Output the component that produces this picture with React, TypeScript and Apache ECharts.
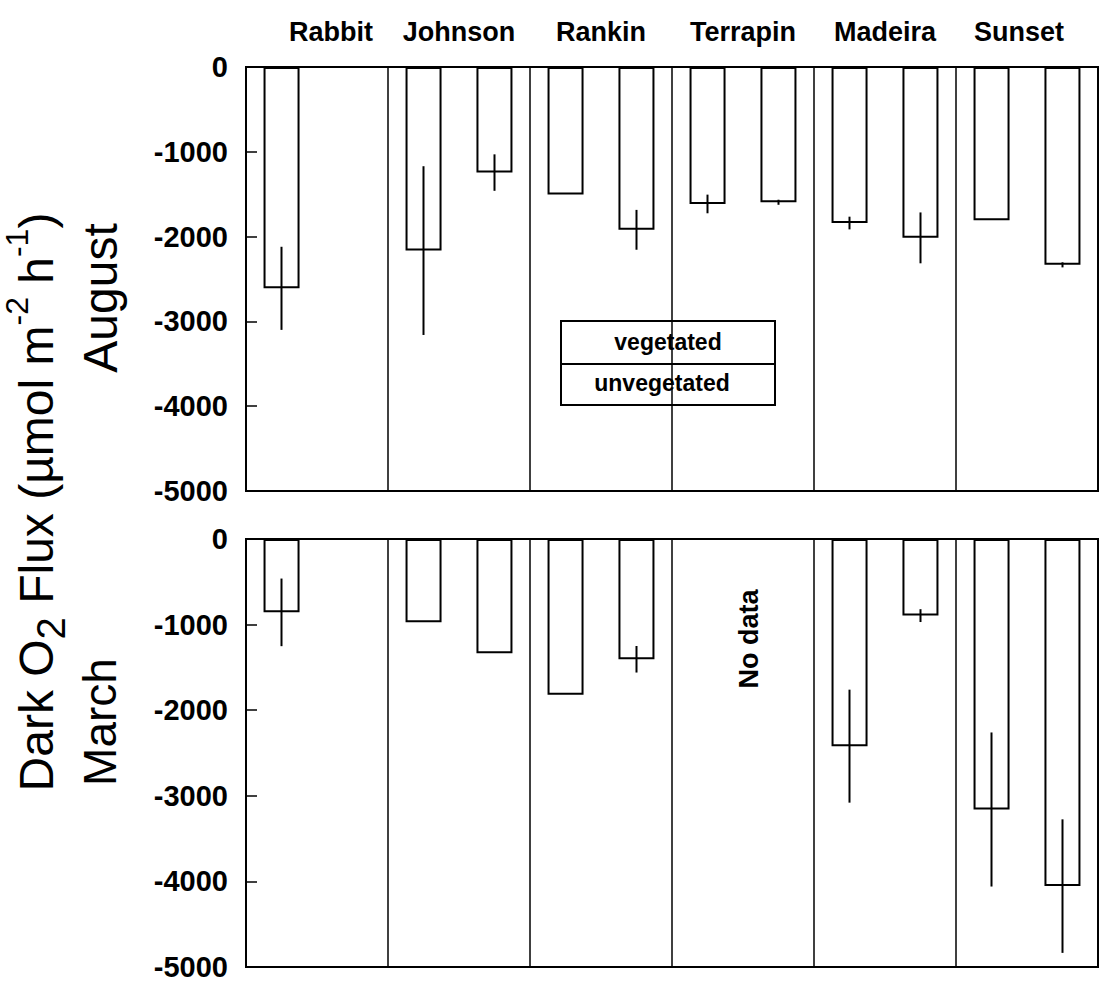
import React, { useEffect, useRef } from "react";
import * as echarts from "echarts";

// ---- data ----
const sites = ["Rabbit", "Johnson", "Rankin", "Terrapin", "Madeira", "Sunset"];

const augVeg = [-2610, -2165, -1505, -1615, -1840, -1808];
const augVegErr = [490, 995, 0, 110, 75, 0];
const augUnveg = [null, -1245, -1920, -1595, -2015, -2333];
const augUnvegErr = [null, 215, 235, 30, 300, 30];

const marVeg = [-857, -973, -1820, null, -2420, -3160];
const marVegErr = [395, 0, 0, null, 660, 900];
const marUnveg = [null, -1335, -1405, null, -895, -4055];
const marUnvegErr = [null, 0, 155, null, 75, 780];

const legendLabels = ["vegetated", "unvegetated"];
const noDataLabel = "No data";

// ---- styling ----
const FONT = "'Liberation Sans', Arial, Helvetica, sans-serif";
const labelShift: Record<string, number> = { Rabbit: 14, Sunset: -8 };

function errData(vals: (number | null)[], errs: (number | null)[]) {
  const out: number[][] = [];
  vals.forEach((v, i) => {
    const e = errs[i];
    if (v != null && e != null && e > 0) out.push([i, v, e]);
  });
  return out;
}

function errSeries(vals: (number | null)[], errs: (number | null)[], side: number, gi: number) {
  return {
    type: "custom",
    xAxisIndex: gi,
    yAxisIndex: gi,
    z: 5,
    data: errData(vals, errs),
    renderItem: (params: any, api: any) => {
      const i = api.value(0);
      const v = api.value(1);
      const e = api.value(2);
      const band = api.size([1, 0])[0];
      const off = (side * band) / 4;
      const a = api.coord([i, v + e]);
      const b = api.coord([i, v - e]);
      return {
        type: "line",
        shape: { x1: a[0] + off, y1: a[1], x2: a[0] + off, y2: b[1] },
        style: { stroke: "#000", lineWidth: 2 },
      };
    },
  };
}

function barSeries(name: string, vals: (number | null)[], gi: number) {
  return {
    type: "bar",
    name,
    xAxisIndex: gi,
    yAxisIndex: gi,
    data: vals,
    barWidth: 36,
    barGap: "97%",
    itemStyle: { color: "#fff", borderColor: "#000", borderWidth: 2 },
    z: 3,
  };
}

const catLabelStyle = { fontSize: 27, fontWeight: "bold", fontFamily: FONT, color: "#000" };

function xAxisCfg(gi: number, showLabels: boolean) {
  return {
    type: "category",
    gridIndex: gi,
    position: "top",
    data: sites,
    axisLine: { show: true, lineStyle: { color: "#000", width: 2 } },
    axisTick: { show: false },
    splitLine: { show: true, interval: 0, lineStyle: { color: "#000", width: 1.5 } },
    axisLabel: {
      show: showLabels,
      interval: 0,
      margin: 22,
      formatter: (v: string) => {
        const s = labelShift[v];
        if (!s) return `{n|${v}}`;
        return s > 0 ? `{r${s}|${v}}` : `{l${-s}|${v}}`;
      },
      rich: {
        n: catLabelStyle,
        r14: { ...catLabelStyle, padding: [0, 0, 0, 28] },
        l8: { ...catLabelStyle, padding: [0, 16, 0, 0] },
      },
    },
  };
}

function yAxisCfg(gi: number) {
  return {
    type: "value",
    gridIndex: gi,
    min: -5000,
    max: 0,
    interval: 1000,
    axisLine: { show: true, lineStyle: { color: "#000", width: 2 } },
    axisTick: { show: true, inside: true, length: 11, lineStyle: { color: "#000", width: 1.5 } },
    splitLine: { show: false },
    axisLabel: {
      margin: 18,
      fontSize: 29,
      fontWeight: "bold",
      fontFamily: FONT,
      color: "#000",
      formatter: (v: number) => String(v),
    },
  };
}

export default function App() {
  const ref = useRef<HTMLDivElement>(null);

  useEffect(() => {
    if (!ref.current) return;
    const chart = echarts.init(ref.current, undefined, { renderer: "svg" });

    const titleRich = {
      a: { fontSize: 48, fontFamily: FONT, color: "#000", lineHeight: 70, verticalAlign: "middle" },
      sub: { fontSize: 40, fontFamily: FONT, color: "#000", lineHeight: 40, verticalAlign: "bottom" },
      sup: { fontSize: 32, fontFamily: FONT, color: "#000", lineHeight: 32, verticalAlign: "top" },
    };

    chart.setOption({
      animation: false,
      backgroundColor: "#fff",
      grid: [
        { left: 246, top: 67, width: 852, height: 424, show: true, borderColor: "#000", borderWidth: 2, backgroundColor: "transparent" },
        { left: 246, top: 539, width: 852, height: 428, show: true, borderColor: "#000", borderWidth: 2, backgroundColor: "transparent" },
      ],
      xAxis: [xAxisCfg(0, true), xAxisCfg(1, false)],
      yAxis: [yAxisCfg(0), yAxisCfg(1)],
      series: [
        barSeries("vegetated", augVeg, 0),
        barSeries("unvegetated", augUnveg, 0),
        barSeries("vegetated", marVeg, 1),
        barSeries("unvegetated", marUnveg, 1),
        errSeries(augVeg, augVegErr, -1, 0),
        errSeries(augUnveg, augUnvegErr, 1, 0),
        errSeries(marVeg, marVegErr, -1, 1),
        errSeries(marUnveg, marUnvegErr, 1, 1),
      ],
      graphic: [
        {
          type: "text",
          x: 36,
          y: 502,
          rotation: Math.PI / 2,
          style: {
            text: "{a|Dark O}{sub|2}{a| Flux (µmol m}{sup|-2}{a| h}{sup|-1}{a|)}",
            rich: titleRich,
            align: "center",
            verticalAlign: "middle",
          },
        },
        {
          type: "text",
          x: 100,
          y: 298,
          rotation: Math.PI / 2,
          style: { text: "August", fontSize: 48, fontFamily: FONT, fill: "#000", align: "center", verticalAlign: "middle" },
        },
        {
          type: "text",
          x: 100,
          y: 722,
          rotation: Math.PI / 2,
          style: { text: "March", fontSize: 46, fontFamily: FONT, fill: "#000", align: "center", verticalAlign: "middle" },
        },
        {
          type: "group",
          z: 100,
          children: [
            { type: "rect", shape: { x: 561, y: 321, width: 214, height: 84 }, style: { fill: "#fff", stroke: "#000", lineWidth: 2 } },
            { type: "line", shape: { x1: 561, y1: 364, x2: 775, y2: 364 }, style: { stroke: "#000", lineWidth: 2 } },
            {
              type: "text",
              x: 668,
              y: 342,
              style: { text: legendLabels[0], fontSize: 23, fontWeight: "bold", fontFamily: FONT, fill: "#000", align: "center", verticalAlign: "middle" },
            },
            {
              type: "text",
              x: 662,
              y: 383,
              style: { text: legendLabels[1], fontSize: 23, fontWeight: "bold", fontFamily: FONT, fill: "#000", align: "center", verticalAlign: "middle" },
            },
          ],
        },
        {
          type: "text",
          x: 749,
          y: 639,
          rotation: Math.PI / 2,
          z: 100,
          style: { text: noDataLabel, fontSize: 27, fontWeight: "bold", fontFamily: FONT, fill: "#000", align: "center", verticalAlign: "middle" },
        },
      ],
    });

    return () => chart.dispose();
  }, []);

  return (
    <div
      ref={ref}
      style={{ position: "fixed", left: 0, top: 0, width: 1099, height: 983, background: "#fff" }}
    />
  );
}
